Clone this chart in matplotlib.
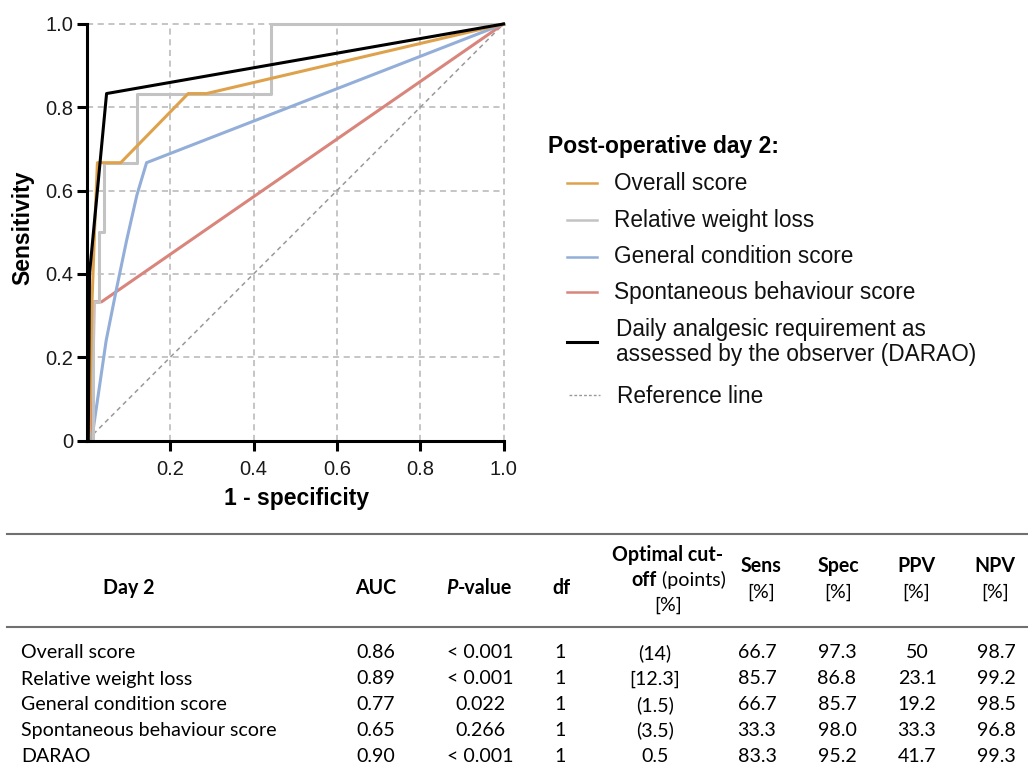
import matplotlib
matplotlib.use("Agg")
import matplotlib.pyplot as plt
from matplotlib.lines import Line2D

W, H = 1028, 764

# ROC curves (1 - specificity, sensitivity)
overall_x = [0.005, 0.012, 0.018, 0.025, 0.081, 0.243, 0.287, 1.0]
overall_y = [0.0, 0.333, 0.5, 0.667, 0.667, 0.833, 0.833, 1.0]
weight_x = [0.0, 0.014, 0.014, 0.029, 0.029, 0.041, 0.041, 0.121, 0.121, 0.442, 0.442, 1.0]
weight_y = [0.0, 0.0, 0.333, 0.333, 0.5, 0.5, 0.667, 0.667, 0.833, 0.833, 1.0, 1.0]
general_x = [0.011, 0.03, 0.046, 0.07, 0.095, 0.12, 0.143, 1.0]
general_y = [0.0, 0.13, 0.24, 0.36, 0.48, 0.59, 0.667, 1.0]
spont_x = [0.012, 0.017, 0.035, 1.0]
spont_y = [0.0, 0.333, 0.333, 1.0]
darao_x = [0.003, 0.006, 0.047, 1.0]
darao_y = [0.0, 0.4, 0.833, 1.0]
ref_x = [0.015, 1.0]
ref_y = [0.015, 1.0]

labels = ["Overall score", "Relative weight loss", "General condition score",
          "Spontaneous behaviour score",
          "Daily analgesic requirement as\nassessed by the observer (DARAO)",
          "Reference line"]
colors = ["#dfa24c", "#c3c3c3", "#93aed8", "#d9857c", "#000000", "#999999"]

# table
row_names = ["Overall score", "Relative weight loss", "General condition score",
             "Spontaneous behaviour score", "DARAO"]
auc = ["0.86", "0.89", "0.77", "0.65", "0.90"]
pval = ["< 0.001", "< 0.001", "0.022", "0.266", "< 0.001"]
dfs = ["1", "1", "1", "1", "1"]
cutoff = ["(14)", "[12.3]", "(1.5)", "(3.5)", "0.5"]
sens = ["66.7", "85.7", "66.7", "33.3", "83.3"]
spec = ["97.3", "86.8", "85.7", "98.0", "95.2"]
ppv = ["50", "23.1", "19.2", "33.3", "41.7"]
npv = ["98.7", "99.2", "98.5", "96.8", "99.3"]

plt.rcParams['font.family'] = ['Liberation Sans', 'DejaVu Sans']

fig = plt.figure(figsize=(W / 100, H / 100), dpi=100)

def fx(x):
    return x / W

def fy(y):
    return 1 - y / H

ax = fig.add_axes([fx(87), fy(440.5), 416.5 / W, 416.5 / H])
ax.set_xlim(0, 1)
ax.set_ylim(0, 1)

for v in [0.2, 0.4, 0.6, 0.8, 1.0]:
    ax.axvline(v, color="#b5b5b5", lw=1.1, ls=(0, (4, 3)), zorder=1, clip_on=False)
    ax.axhline(v, color="#b5b5b5", lw=1.1, ls=(0, (4, 3)), zorder=1, clip_on=False)

ax.plot(ref_x, ref_y, color=colors[5], lw=1.1, ls=(0, (3, 2.5)), zorder=2)
ax.plot(spont_x, spont_y, color=colors[3], lw=2.2, zorder=3, clip_on=False)
ax.plot(general_x, general_y, color=colors[2], lw=2.2, zorder=3, clip_on=False)
ax.plot(weight_x, weight_y, color=colors[1], lw=2.2, zorder=3, clip_on=False)
ax.plot(overall_x, overall_y, color=colors[0], lw=2.2, zorder=4, clip_on=False)
ax.plot(darao_x, darao_y, color=colors[4], lw=2.2, zorder=5, clip_on=False)

for s in ["top", "right"]:
    ax.spines[s].set_visible(False)
for s in ["left", "bottom"]:
    ax.spines[s].set_linewidth(2.2)
    ax.spines[s].set_zorder(6)

ax.set_xticks([0.2, 0.4, 0.6, 0.8, 1.0])
ax.set_xticklabels(["0.2", "0.4", "0.6", "0.8", "1.0"])
ax.set_yticks([0, 0.2, 0.4, 0.6, 0.8, 1.0])
ax.set_yticklabels(["0", "0.2", "0.4", "0.6", "0.8", "1.0"])
ax.tick_params(axis="both", length=7, width=2.2, labelsize=14.5, color="black",
               labelcolor="#1a1a1a")
ax.tick_params(axis="x", pad=7)
ax.tick_params(axis="y", pad=3)

fig.text(fx(23), fy(228), "Sensitivity", rotation=90, fontsize=16.5,
         fontweight="bold", ha="center", va="center")
fig.text(fx(297), fy(498), "1 - specificity", fontsize=16.5,
         fontweight="bold", ha="center", va="center")

# legend
fig.text(fx(548), fy(147), "Post-operative day 2:", fontsize=16.5, fontweight="bold",
         ha="left", va="center")
leg_y = [183, 220, 257, 292, 342, 395]
text_y = [183, 220, 257, 292, 342, 396]
for i, lab in enumerate(labels):
    y = fy(leg_y[i])
    if i == 5:
        fig.add_artist(Line2D([fx(569), fx(600)], [y, y], color=colors[i], lw=1.0,
                              ls=(0, (2, 1.5))))
        tx = 617
    else:
        fig.add_artist(Line2D([fx(567), fx(597)], [y, y], color=colors[i],
                              lw=2.2 if i == 4 else 1.8))
        tx = 614 if i < 4 else 616
    fig.text(fx(tx), fy(text_y[i]), lab, fontsize=16.3, ha="left", va="center",
             linespacing=1.15, color="#111111")

# table
tf = ['Lato', 'DejaVu Sans']
ts = 14.1
rule_col = "#707070"
fig.add_artist(Line2D([fx(7), fx(1028)], [fy(534), fy(534)], color=rule_col, lw=1.5))
fig.add_artist(Line2D([fx(7), fx(1028)], [fy(627), fy(627)], color=rule_col, lw=1.5))

def th(x, y, s, **kw):
    fig.text(fx(x), fy(y), s, fontsize=ts, family=tf, ha="center", va="center",
             fontweight="bold", **kw)

th(129, 588, "Day 2")
th(376, 588, "AUC")
fig.text(fx(458), fy(588), "P", fontsize=ts, family=tf, ha="right", va="center",
         fontweight="bold", fontstyle="italic")
fig.text(fx(458), fy(588), "-value", fontsize=ts, family=tf, ha="left", va="center",
         fontweight="bold")
th(561, 588, "df")
th(668, 555, "Optimal cut-")
fig.text(fx(657), fy(580), "off", fontsize=ts, family=tf, ha="right", va="center",
         fontweight="bold")
fig.text(fx(657), fy(580), " (points)", fontsize=ts, family=tf, ha="left", va="center")
fig.text(fx(668), fy(605), "[%]", fontsize=ts, family=tf, ha="center", va="center")
for x, name in zip([761, 838, 916, 995], ["Sens", "Spec", "PPV", "NPV"]):
    th(x, 566, name)
    fig.text(fx(x), fy(592), "[%]", fontsize=ts, family=tf, ha="center", va="center")

row_y = [653, 679, 705, 730.5, 756.5]
cols = [(376, auc), (480, pval), (560.5, dfs), (655, cutoff), (757, sens),
        (837, spec), (917, ppv), (996, npv)]
for i, y in enumerate(row_y):
    fig.text(fx(21), fy(y), row_names[i], fontsize=ts, family=tf, ha="left", va="center")
    for x, vals in cols:
        fig.text(fx(x), fy(y), vals[i], fontsize=ts, family=tf, ha="center", va="center")

fig.savefig("out.png", dpi=100)
